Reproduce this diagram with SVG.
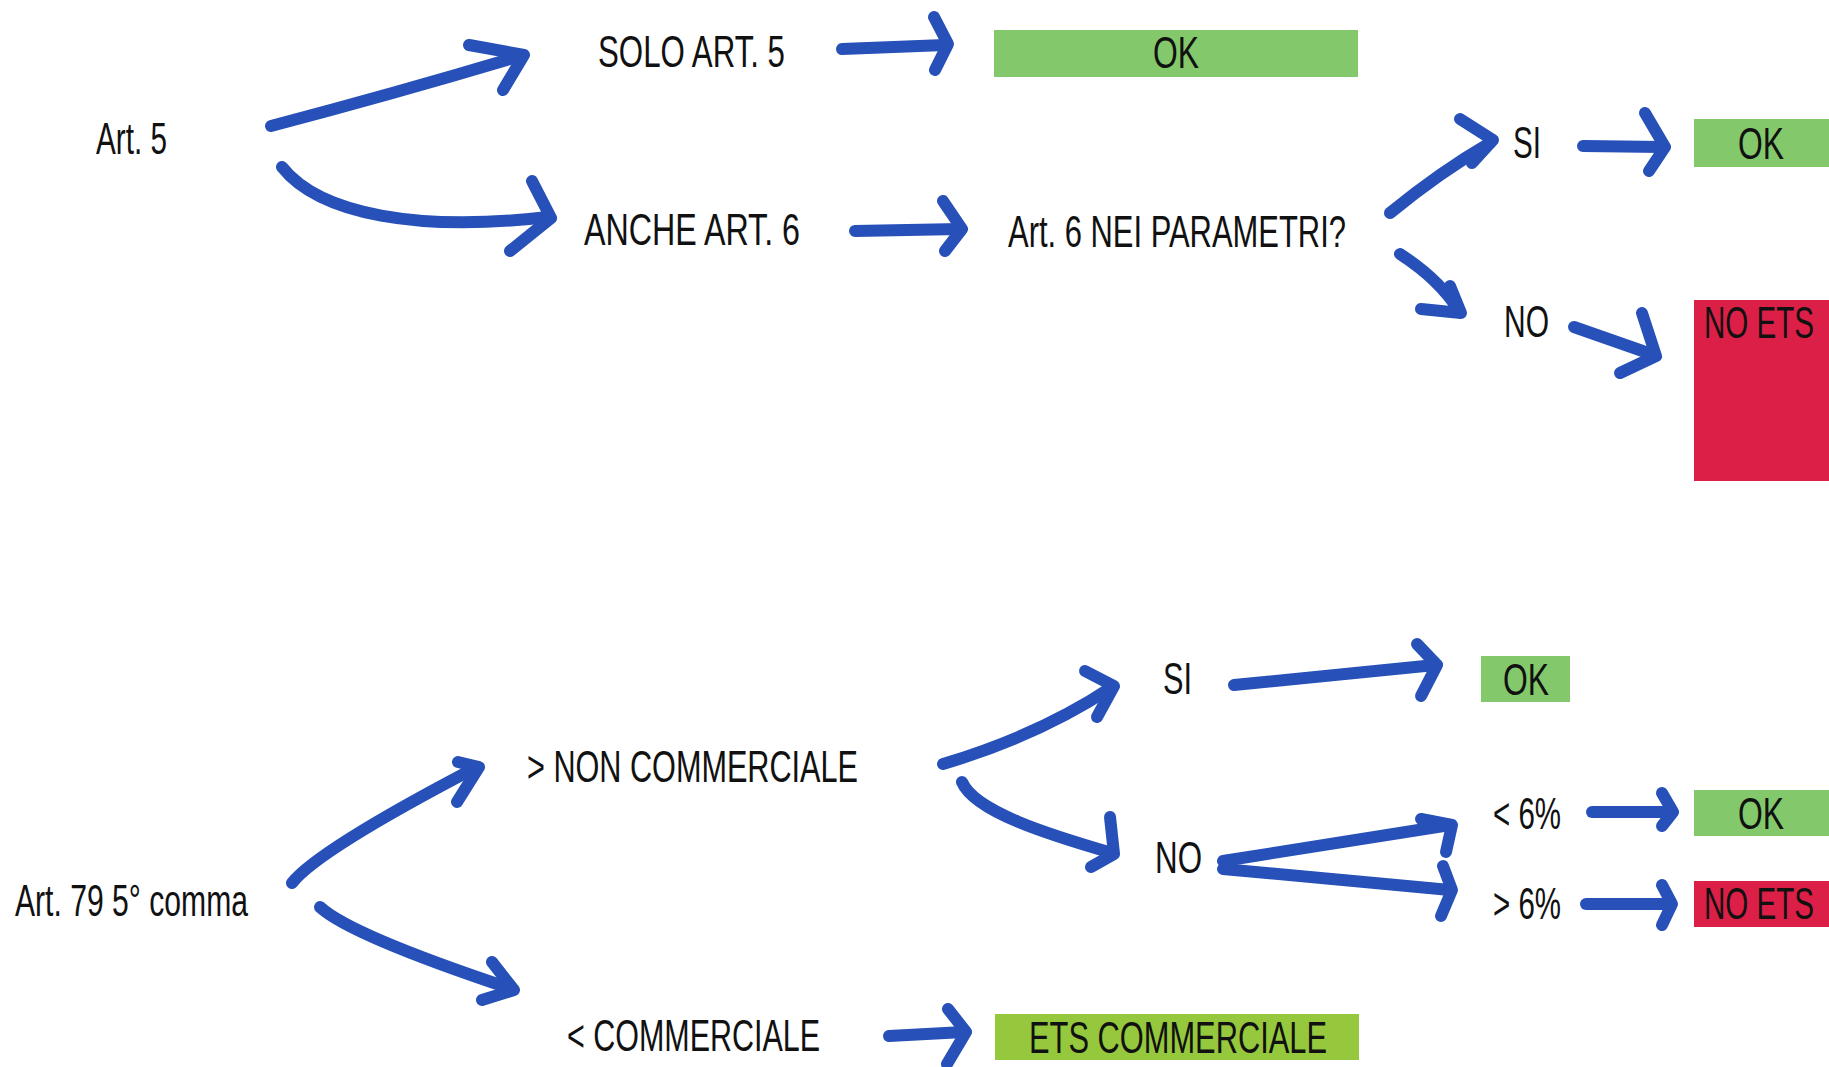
<svg xmlns="http://www.w3.org/2000/svg" width="1829" height="1067" viewBox="0 0 1829 1067">
<style>
text{font-family:"Liberation Sans Narrow","Liberation Sans",Arial,sans-serif;font-size:44px;fill:#111;}
.ok{fill:#83c86a;}
.ets{fill:#95c83c;}
.no{fill:#dc1f46;}
.a{fill:none;stroke:#2751b8;stroke-width:12;stroke-linecap:round;stroke-linejoin:round;}
</style>
<rect width="1829" height="1067" fill="#fff"/>
<g id="connectors">
<path class="a" d="M271,126 Q400,92 520,56"/><path class="a" d="M469,45 L524,55 L503,90"/>
<path class="a" d="M282,167 C320,215 420,232 548,217"/><path class="a" d="M532,181 L551,218 L510,251"/>
<path class="a" d="M842,49 L945,45"/><path class="a" d="M934,17 L948,44 L935,70"/>
<path class="a" d="M855,231 L960,229"/><path class="a" d="M943,201 L962,229 L945,251"/>
<path class="a" d="M1390,213 Q1440,172 1490,143"/><path class="a" d="M1460,119 L1493,140 L1472,163"/>
<path class="a" d="M1400,254 Q1440,280 1459,311"/><path class="a" d="M1450,286 L1461,313 L1421,309"/>
<path class="a" d="M1583,146 L1663,147"/><path class="a" d="M1645,113 L1665,147 L1649,171"/>
<path class="a" d="M1574,327 L1654,355"/><path class="a" d="M1642,313 L1656,356 L1620,373"/>
<path class="a" d="M292,883 Q318,850 477,767"/><path class="a" d="M458,762 L479,767 L457,802"/>
<path class="a" d="M320,907 Q350,935 512,989"/><path class="a" d="M492,962 L514,990 L482,1000"/>
<path class="a" d="M889,1036 L964,1032"/><path class="a" d="M948,1009 L966,1032 L947,1064"/>
<path class="a" d="M943,764 Q1040,735 1112,687"/><path class="a" d="M1085,671 L1114,686 L1097,717"/>
<path class="a" d="M962,782 C975,812 1050,835 1112,853"/><path class="a" d="M1110,817 L1114,854 L1091,867"/>
<path class="a" d="M1234,685 L1435,665"/><path class="a" d="M1417,644 L1437,665 L1421,696"/>
<path class="a" d="M1223,861 L1450,825"/><path class="a" d="M1421,819 L1452,825 L1446,852"/>
<path class="a" d="M1223,869 L1450,890"/><path class="a" d="M1443,866 L1452,890 L1441,916"/>
<path class="a" d="M1592,812 L1671,812"/><path class="a" d="M1662,793 L1673,812 L1662,826"/>
<path class="a" d="M1586,904 L1670,904"/><path class="a" d="M1662,885 L1672,904 L1662,925"/>
</g>
<g id="n-art5"><text x="96" y="154" textLength="71" lengthAdjust="spacingAndGlyphs">Art. 5</text></g>
<g id="n-solo"><text x="598" y="67" textLength="187" lengthAdjust="spacingAndGlyphs">SOLO ART. 5</text></g>
<g id="n-ok1"><rect class="ok" x="994" y="30" width="364" height="47"/><text x="1153" y="68" textLength="46" lengthAdjust="spacingAndGlyphs">OK</text></g>
<g id="n-anche"><text x="584" y="245" textLength="216" lengthAdjust="spacingAndGlyphs">ANCHE ART. 6</text></g>
<g id="n-param"><text x="1008" y="247" textLength="338" lengthAdjust="spacingAndGlyphs">Art. 6 NEI PARAMETRI?</text></g>
<g id="n-si1"><text x="1513" y="158" textLength="28" lengthAdjust="spacingAndGlyphs">SI</text></g>
<g id="n-ok2"><rect class="ok" x="1694" y="119" width="135" height="48"/><text x="1738" y="159" textLength="46" lengthAdjust="spacingAndGlyphs">OK</text></g>
<g id="n-no1"><text x="1504" y="337" textLength="45" lengthAdjust="spacingAndGlyphs">NO</text></g>
<g id="n-noets1"><rect class="no" x="1694" y="300" width="135" height="181"/><text x="1704" y="338" textLength="110" lengthAdjust="spacingAndGlyphs">NO ETS</text></g>
<g id="n-art79"><text x="15" y="916" textLength="233" lengthAdjust="spacingAndGlyphs">Art. 79 5° comma</text></g>
<g id="n-noncomm"><text x="527" y="782" textLength="331" lengthAdjust="spacingAndGlyphs">&gt; NON COMMERCIALE</text></g>
<g id="n-comm"><text x="567" y="1051" textLength="253" lengthAdjust="spacingAndGlyphs">&lt; COMMERCIALE</text></g>
<g id="n-etscomm"><rect class="ets" x="995" y="1014" width="364" height="46"/><text x="1029" y="1053" textLength="298" lengthAdjust="spacingAndGlyphs">ETS COMMERCIALE</text></g>
<g id="n-si2"><text x="1163" y="694" textLength="29" lengthAdjust="spacingAndGlyphs">SI</text></g>
<g id="n-ok3"><rect class="ok" x="1481" y="656" width="89" height="46"/><text x="1503" y="695" textLength="46" lengthAdjust="spacingAndGlyphs">OK</text></g>
<g id="n-no2"><text x="1155" y="873" textLength="47" lengthAdjust="spacingAndGlyphs">NO</text></g>
<g id="n-lt6"><text x="1493" y="829" textLength="68" lengthAdjust="spacingAndGlyphs">&lt; 6%</text></g>
<g id="n-ok4"><rect class="ok" x="1694" y="790" width="135" height="46"/><text x="1738" y="829" textLength="46" lengthAdjust="spacingAndGlyphs">OK</text></g>
<g id="n-gt6"><text x="1493" y="919" textLength="68" lengthAdjust="spacingAndGlyphs">&gt; 6%</text></g>
<g id="n-noets2"><rect class="no" x="1694" y="881" width="135" height="46"/><text x="1704" y="919" textLength="110" lengthAdjust="spacingAndGlyphs">NO ETS</text></g>
</svg>
